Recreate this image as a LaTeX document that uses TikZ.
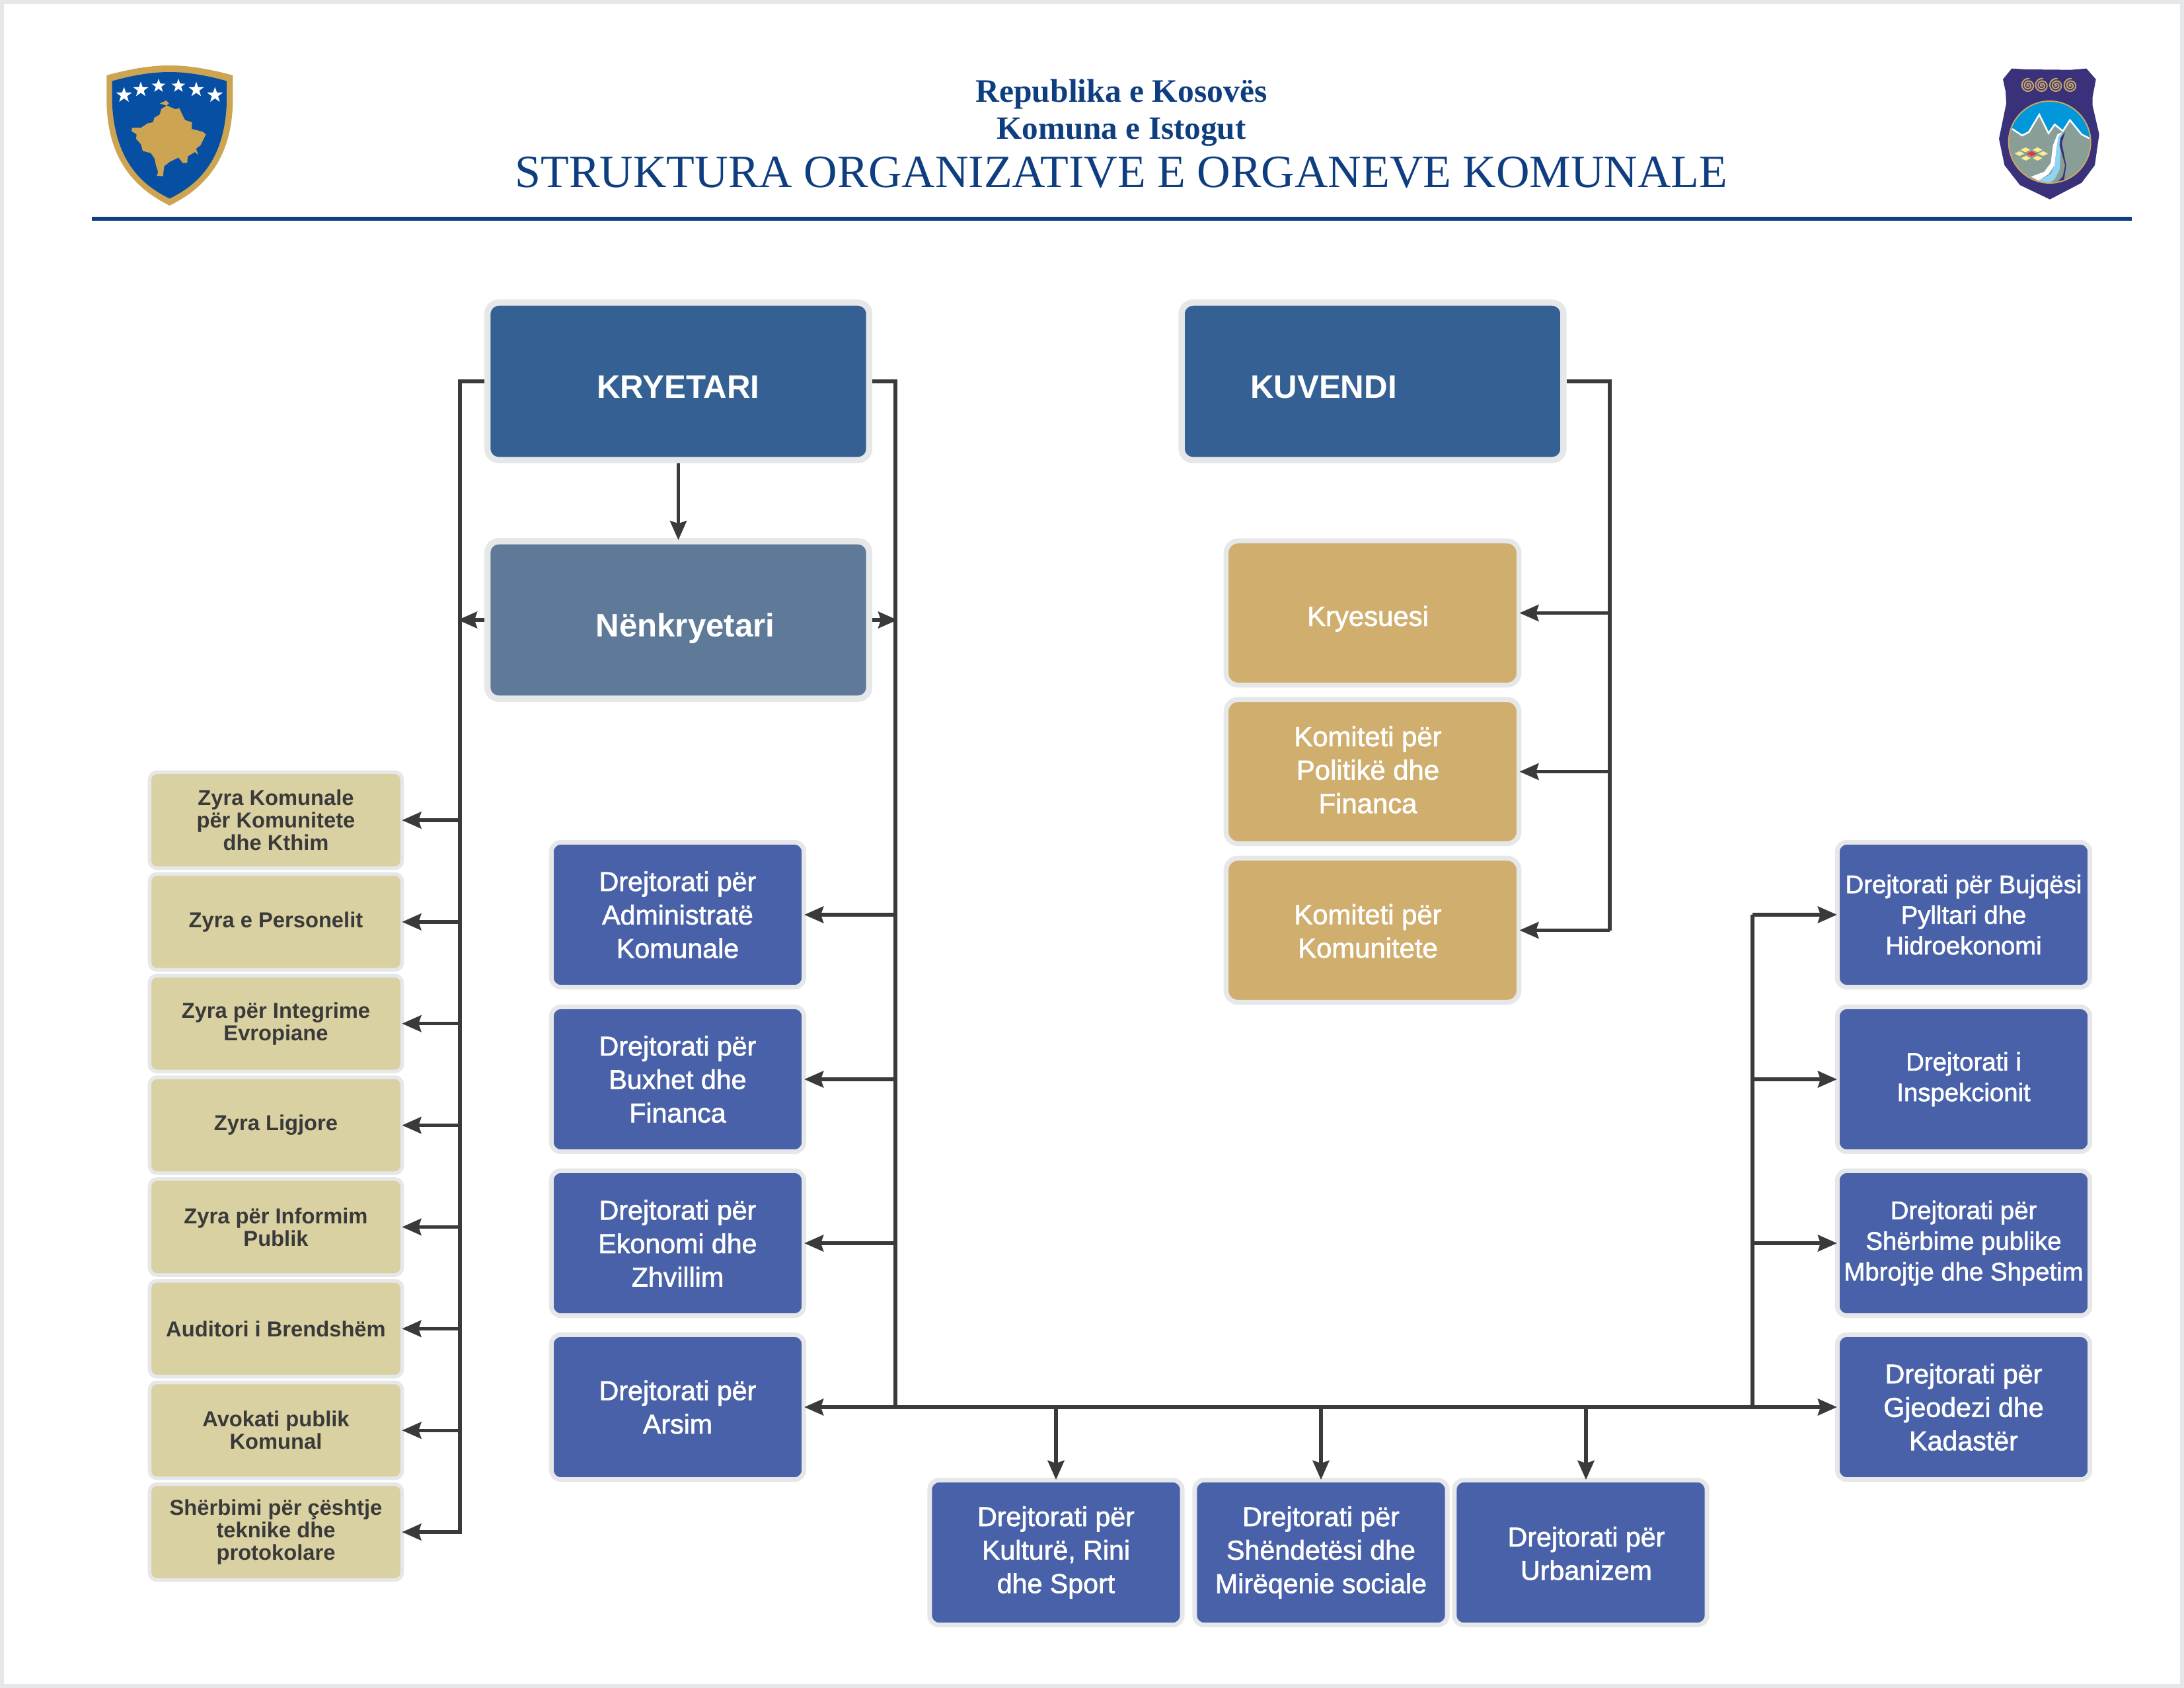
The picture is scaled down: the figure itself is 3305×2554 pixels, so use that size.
\documentclass[tikz,border=0pt]{standalone}
\usepackage{fontspec}
\usepackage{tikz}
\usetikzlibrary{arrows.meta}
\setmainfont{Liberation Sans}
\newfontfamily\headfont{Liberation Serif}
\newfontfamily\smallboxfont[FakeBold=1.6]{Liberation Sans}
\newcommand{\boxlines}[1]{\begin{tabular}{@{}c@{}}#1\end{tabular}}

\definecolor{framegray}{HTML}{E6E7E8}
\definecolor{linegray}{HTML}{3A3A3A}
\definecolor{navy}{HTML}{0E3E80}
\definecolor{kryeblue}{HTML}{356093}
\definecolor{nenblue}{HTML}{5F7A99}
\definecolor{gold}{HTML}{D0AE6D}
\definecolor{dirblue}{HTML}{4861A9}
\definecolor{beige}{HTML}{D9D1A2}
\definecolor{shieldblue}{HTML}{064FA2}
\definecolor{shieldgold}{HTML}{CDA552}
\definecolor{emblemblue}{HTML}{39317A}
\definecolor{emblemsky}{HTML}{0097DB}
\definecolor{emblemrock}{HTML}{8A9E98}
\definecolor{emblemtan}{HTML}{C9A763}
\definecolor{emblemyellow}{HTML}{FBEE8F}
\definecolor{emblemred}{HTML}{EE3135}
\definecolor{emblemriver}{HTML}{8FD4F5}

\tikzset{
box/.style={rectangle,draw=framegray,text=white,align=center,inner sep=0pt},
bigbox/.style={box,rounded corners=0.17cm,line width=0.095cm,minimum width=5.775cm,minimum height=2.38cm,text height=0.5cm,text depth=0pt,font=\bfseries\fontsize{14}{17}\selectfont},
goldbox/.style={box,rounded corners=0.18cm,fill=gold,line width=0.075cm,minimum width=4.43cm,minimum height=2.18cm,font=\smallboxfont\fontsize{11.9}{14.4}\selectfont},
dirbox/.style={box,rounded corners=0.14cm,fill=dirblue,line width=0.07cm,minimum width=3.82cm,minimum height=2.19cm,font=\smallboxfont\fontsize{11.7}{14.4}\selectfont},
dirsmall/.style={dirbox,font=\smallboxfont\fontsize{10.9}{13.2}\selectfont},
officebox/.style={box,rounded corners=0.11cm,fill=beige,text=linegray,line width=0.055cm,minimum width=3.82cm,minimum height=1.45cm,font=\fontsize{9.3}{9.7}\selectfont\bfseries},
link/.style={draw=linegray,line width=0.053cm},
arrow/.style={link,shorten >=-0.03cm,-{Stealth[length=0.29cm,width=0.25cm,inset=0.04cm]}},
twoarrow/.style={link,shorten >=-0.03cm,shorten <=-0.03cm,{Stealth[length=0.29cm,width=0.25cm,inset=0.04cm]}-{Stealth[length=0.29cm,width=0.25cm,inset=0.04cm]}}
}

\begin{document}
\begin{tikzpicture}[x=0.01cm,y=-0.01cm]
\useasboundingbox (0,0) rectangle (3305,2554);
\draw[framegray,line width=0.06cm] (3,3) rectangle (3302,2551);

% header
\node[font=\headfont\bfseries\fontsize{14.1}{17}\selectfont,text=navy] (republika) at (1697,143) {Republika e Kosovës};
\node[font=\headfont\bfseries\fontsize{14}{17}\selectfont,text=navy] (komuna) at (1697,200) {Komuna e Istogut};
\node[font=\headfont\fontsize{19.9}{22}\selectfont,text=navy] (titulli) at (1697,261) {STRUKTURA ORGANIZATIVE E ORGANEVE KOMUNALE};
\fill[navy] (139,328) rectangle (3226,334);

% left shield
\begin{scope}[shift={(100,50)},scale=1/3]
\fill[shieldgold] (184,192) .. controls (280,165) and (380,147) .. (470,147) .. controls (560,147) and (660,165) .. (757,192)
  -- (757,320) .. controls (750,540) and (660,690) .. (470,783) .. controls (280,690) and (190,540) .. (184,320) -- cycle;
\fill[shieldblue] (209,218) .. controls (300,192) and (390,177) .. (470,177) .. controls (550,177) and (640,192) .. (729,218)
  -- (729,320) .. controls (720,530) and (640,670) .. (470,751) .. controls (300,670) and (220,530) .. (209,320) -- cycle;
\foreach \x/\y/\r in {263/282/37,339/257/36,420/240/33,510/240/33,591/257/36,676/282/37}
{
\fill[white,shift={(\x,\y)}] (-90:\r)--(-54:0.4*\r)--(-18:\r)--(18:0.4*\r)--(54:\r)--(90:0.4*\r)--(126:\r)--(162:0.4*\r)--(198:\r)--(234:0.4*\r)--cycle;
}
\fill[shieldgold] (455,306)--(467,320)--(452,332)--(432,345)--(425,370)--(400,385)--(395,405)--(370,410)--(340,430)--(300,430)--(297,445)--(320,460)--(318,480)--(340,505)--(348,535)--(385,545)--(402,570)--(408,600)--(418,630)--(412,648)--(440,650)--(445,605)--(470,585)--(510,565)--(530,590)--(550,590)--(552,560)--(585,540)--(600,553)--(590,525)--(610,510)--(635,460)--(620,448)--(570,435)--(572,405)--(540,395)--(525,365)--(515,342)--(495,345)--(460,330)--(425,320)--cycle;
\end{scope}

% right emblem
\begin{scope}[shift={(2950,60)},scale=1/3]
\fill[emblemblue] (283,131)--(350,135)--(552,137)--(622,131)--(665,180)--(650,260)--(650,300)--(680,430)--(660,570)--(600,650)--(456,725)--(320,660)--(250,570)--(225,450)--(258,290)--(255,235)--(243,180)--cycle;
\foreach \x in {358,420,485,550}
{
\draw[emblemtan,line width=0.02cm] plot[variable=\t,domain=0:1000,samples=70,smooth] ({\x+\t/1000*32*cos(\t)},{208+\t/1000*32*sin(\t)});
}
\begin{scope}
\clip (455,465) circle (186);
\fill[emblemrock] (269,279) rectangle (641,651);
\fill[emblemsky] (269,279) -- (641,279) -- (641,450) -- (635,448) -- (600,430) -- (547,365) -- (515,415) -- (478,385) -- (450,425) -- (408,340) -- (360,420) -- (330,435) -- (285,405) -- (269,395) -- cycle;
\draw[white,line width=0.025cm] (285,405) -- (330,435) -- (360,420) -- (408,340) -- (450,425) -- (478,385) -- (515,415) -- (547,365) -- (600,430) -- (635,448);
\fill[white] (515,418)--(490,430)--(470,480)--(460,560)--(430,600)--(370,622)--(405,640)--(450,610)--(478,570)--(485,500)--(495,440)--cycle;
\fill[emblemriver] (512,424)--(495,440)--(485,500)--(478,570)--(460,610)--(405,640)--(450,655)--(480,630)--(500,590)--(505,500)--(500,460)--cycle;
\fill[emblemblue] (525,420)--(505,445)--(500,480)--(525,570)--(515,620)--(490,648)--(520,640)--(530,570)--(510,470)--cycle;
\end{scope}
\draw[emblemtan,line width=0.02cm] (455,465) circle (186);
\foreach \x/\y in {345/500,400/500,318/517,425/517,347/538,400/538}
{
\fill[emblemyellow] (\x-22,\y)--(\x,\y-11)--(\x+22,\y)--(\x,\y+11)--cycle;
}
\fill[emblemred] (351,518)--(373,507)--(395,518)--(373,529)--cycle;
\end{scope}

% top boxes
\node[bigbox,fill=kryeblue] (kryetari) at (1026.5,577) {KRYETARI};
\node[bigbox,fill=nenblue] (nenkryetari) at (1026.5,938) {\hspace{0.21cm}Nënkryetari};
\node[bigbox,fill=kryeblue] (kuvendi) at (2077,577) {KUVENDI\hspace{1.48cm}};

\foreach \id/\y/\txt in {kryesuesi/927.5/{\rule{0pt}{0.54cm}Kryesuesi},politike/1167.5/{\rule{0pt}{0.394cm}Komiteti për\\Politikë dhe\\Financa},komunitete/1407.5/{\rule{0pt}{0.474cm}Komiteti për\\Komunitete}}
{
\node[goldbox] (\id) at (2077,\y) {\boxlines{\txt}\hspace{0.14cm}};
}

% offices on the left
\foreach \i/\txt in {0/{Zyra Komunale\\për Komunitete\\dhe Kthim},1/{Zyra e Personelit},2/{Zyra për Integrime\\Evropiane},3/{Zyra Ligjore},4/{Zyra për Informim\\Publik},5/{Auditori i Brendshëm},6/{Avokati publik\\Komunal},7/{Shërbimi për çështje\\teknike dhe\\protokolare}}
{
\node[officebox] (zyra\i) at (417.5,1241+153.86*\i) {\txt};
}

% directorates
\foreach \id/\y/\txt in {administrate/1384/{Drejtorati për\\Administratë\\Komunale},buxhet/1633/{Drejtorati për\\Buxhet dhe\\Financa},ekonomi/1881/{Drejtorati për\\Ekonomi dhe\\Zhvillim},arsim/2129/{Drejtorati për\\Arsim}}
{
\node[dirbox] (\id) at (1025.5,\y) {\txt};
}
\foreach \id/\y/\txt in {bujqesi/1384/{Drejtorati për Bujqësi\\Pylltari dhe\\Hidroekonomi},inspekcioni/1633/{Drejtorati i\\Inspekcionit},sherbime/1881/{Drejtorati për\\Shërbime publike\\Mbrojtje dhe Shpetim}}
{
\node[dirsmall] (\id) at (2971.5,\y) {\txt};
}
\node[dirbox] (gjeodezi) at (2971.5,2129) {Drejtorati për\\Gjeodezi dhe\\Kadastër};
\node[dirbox] (kulture) at (1598,2349) {Drejtorati për\\Kulturë, Rini\\dhe Sport};
\node[dirbox] (shendetesi) at (1999,2349) {Drejtorati për\\Shëndetësi dhe\\Mirëqenie sociale};
\node[dirbox] (urbanizem) at (2392,2349) {\hspace{0.17cm}\boxlines{\rule{0pt}{0.474cm}Drejtorati për\\Urbanizem}};

% connectors
\coordinate (lefttrunk) at (696,577);
\coordinate (midtrunk) at (1355,577);
\coordinate (righttrunk) at (2652,2129);
\coordinate (kuvenditrunk) at (2436,577);
\coordinate (urbantop) at (2400,2236);

\draw[arrow] (kryetari) -- (nenkryetari);
\draw[arrow] (nenkryetari.west) -- (lefttrunk |- nenkryetari.west);
\draw[arrow] (nenkryetari.east) -- (midtrunk |- nenkryetari.east);

\draw[arrow] (kryetari.west) -- (lefttrunk) -- (lefttrunk |- zyra7.east) -- (zyra7.east);
\foreach \i in {0,...,6}
{
\draw[arrow] (lefttrunk |- zyra\i.east) -- (zyra\i.east);
}

\draw[link] (kryetari.east) -- (midtrunk) -- (midtrunk |- arsim.east);
\foreach \id in {administrate,buxhet,ekonomi}
{
\draw[arrow] (midtrunk |- \id.east) -- (\id.east);
}

\draw[twoarrow] (arsim.east) -- (gjeodezi.west);
\draw[arrow] (kulture.north |- arsim.east) -- (kulture.north);
\draw[arrow] (shendetesi.north |- arsim.east) -- (shendetesi.north);
\draw[arrow] (urbantop |- arsim.east) -- (urbantop);

\draw[link] (righttrunk) -- (righttrunk |- bujqesi.west);
\foreach \id in {bujqesi,inspekcioni,sherbime}
{
\draw[arrow] (righttrunk |- \id.west) -- (\id.west);
}

\draw[link] (kuvendi.east) -- (kuvenditrunk) -- (kuvenditrunk |- komunitete.east);
\foreach \id in {kryesuesi,politike,komunitete}
{
\draw[arrow] (kuvenditrunk |- \id.east) -- (\id.east);
}
\end{tikzpicture}
\end{document}
